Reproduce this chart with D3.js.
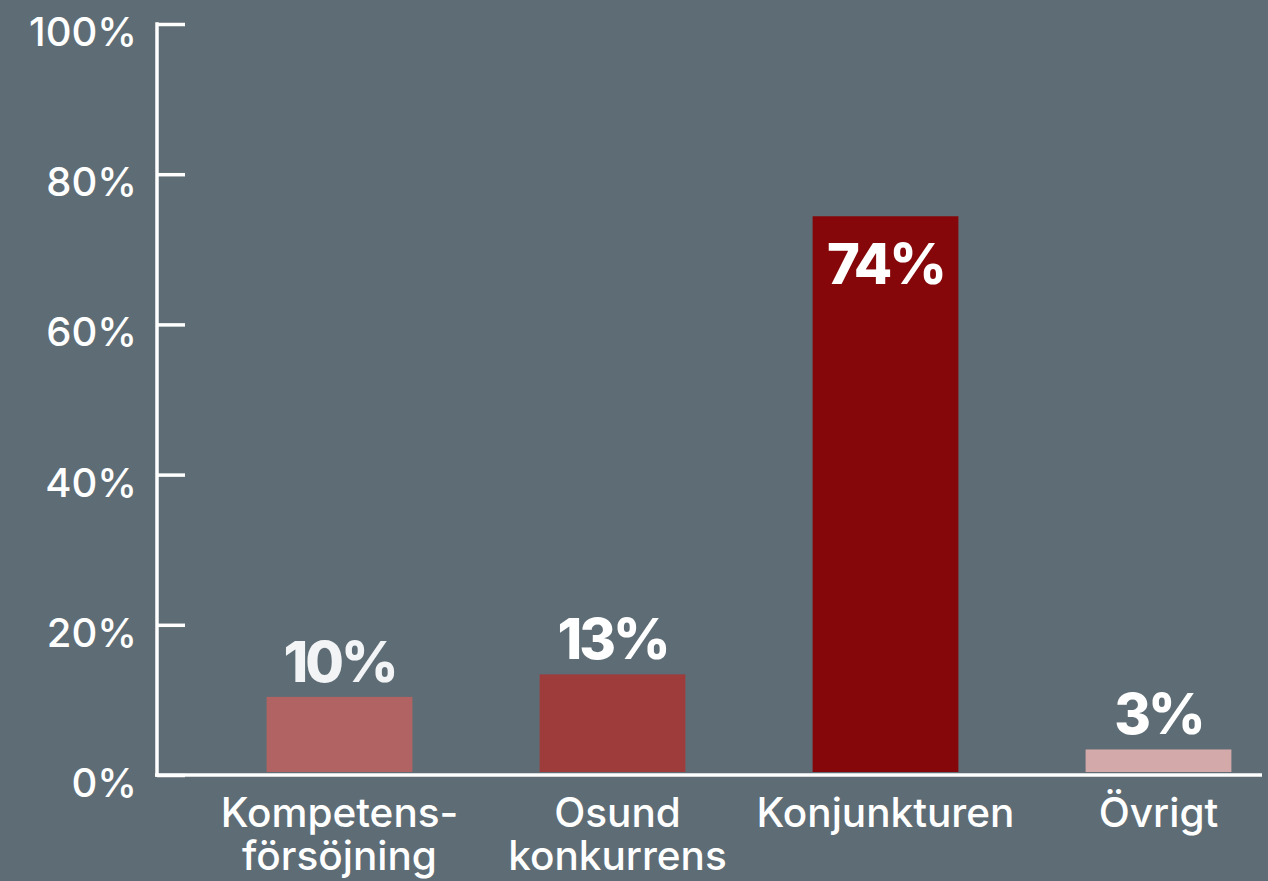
<!DOCTYPE html>
<html>
<head>
<meta charset="utf-8">
<script src="https://cdn.jsdelivr.net/npm/d3@7"></script>
<style>
  html, body { margin: 0; padding: 0; background: #5e6d75; }
  svg { display: block; }
</style>
</head>
<body>
<svg id="chart" width="1268" height="881"></svg>
<script>
const categories = [["Kompetens-", "försöjning"], ["Osund", "konkurrens"], ["Konjunkturen"], ["Övrigt"]];
const values = [10, 13, 74, 3];
const valueLabels = ["10%", "13%", "74%", "3%"];
const barColors = ["#b06362", "#9e3b3b", "#860709", "#d4a9a9"];
const yTicks = [0, 20, 40, 60, 80, 100];

const svg = d3.select("#chart");
const FONT = "Inter, 'Open Sans', sans-serif";

const y = d3.scaleLinear().domain([0, 100]).range([775, 24]);
const x = d3.scaleBand().domain(d3.range(values.length)).range([203, 1295])
  .paddingInner(0.466).paddingOuter(0.233);

// bars
svg.append("g").selectAll("rect").data(values).join("rect")
  .attr("x", (d, i) => x(i))
  .attr("width", x.bandwidth())
  .attr("y", d => y(d) - 3)
  .attr("height", d => y(0) - y(d))
  .attr("fill", (d, i) => barColors[i]);

// y axis
const yAxis = svg.append("g").attr("transform", "translate(157,0)")
  .call(d3.axisRight(y).tickValues(yTicks).tickSize(28).tickFormat(""));
yAxis.select(".domain").remove();
yAxis.selectAll("line").attr("stroke", "#fff").attr("stroke-width", 3.5);
svg.append("line").attr("x1", 157).attr("x2", 157).attr("y1", y(100) - 1.75).attr("y2", y(0) + 1.75)
  .attr("stroke", "#fff").attr("stroke-width", 3.5);

svg.append("g").selectAll("text").data(yTicks).join("text")
  .attr("x", 137).attr("y", d => y(d) + 22)
  .attr("text-anchor", "end")
  .attr("fill", "#fff")
  .style("font-family", FONT).style("font-size", "40px").style("font-weight", 500)
  .text(d => d + "%");

// x axis line
svg.append("line").attr("x1", 155).attr("x2", 1262).attr("y1", y(0)).attr("y2", y(0))
  .attr("stroke", "#fff").attr("stroke-width", 3.5);

// category labels
const cat = svg.append("g").selectAll("text").data(categories).join("text")
  .attr("text-anchor", "middle")
  .attr("fill", "#fff")
  .style("font-family", FONT).style("font-size", "40.5px").style("font-weight", 500)
  .attr("transform", (d, i) => `translate(${x(i) + x.bandwidth() / 2 + (i === 1 ? 5 : 0)},827)`);
cat.selectAll("tspan").data(d => d).join("tspan")
  .attr("x", 0).attr("y", (d, j) => j * 43)
  .text(d => d);

// value labels
svg.append("g").selectAll("text").data(values).join("text")
  .attr("x", (d, i) => x(i) + x.bandwidth() / 2)
  .attr("y", (d, i) => d > 50 ? y(d) + 65 : y(d) - 18)
  .attr("text-anchor", "middle")
  .attr("fill", (d, i) => i === 0 ? "#f3f4f5" : "#fff")
  .style("font-family", FONT).style("font-size", "56px").style("font-weight", 800)
  .style("letter-spacing", "-3px")
  .text((d, i) => valueLabels[i]);
</script>
</body>
</html>
